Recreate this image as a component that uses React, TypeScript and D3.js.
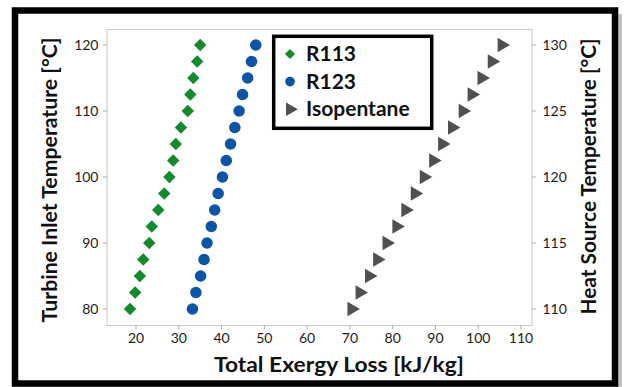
import React from "react";
import * as d3 from "d3";

const turbineInletTemps = [80, 82.5, 85, 87.5, 90, 92.5, 95, 97.5, 100, 102.5, 105, 107.5, 110, 112.5, 115, 117.5, 120];
const heatSourceTemps = [110, 111.25, 112.5, 113.75, 115, 116.25, 117.5, 118.75, 120, 121.25, 122.5, 123.75, 125, 126.25, 127.5, 128.75, 130];
const r113Loss = [18.6, 19.8, 20.9, 21.7, 23.1, 23.7, 25.2, 26.6, 27.8, 28.7, 29.3, 30.5, 32.1, 32.7, 33.4, 34.3, 35.0];
const r123Loss = [33.2, 34.0, 35.1, 35.9, 36.6, 37.6, 38.4, 39.2, 40.2, 41.1, 42.1, 43.1, 44.1, 44.9, 46.1, 47.0, 48.0];
const isopentaneLoss = [70.4, 72.3, 74.5, 76.4, 78.6, 80.9, 83.0, 85.2, 87.3, 89.5, 91.6, 93.9, 96.4, 98.5, 100.8, 103.2, 105.5];

const xTicks = [20, 30, 40, 50, 60, 70, 80, 90, 100, 110];
const yLeftTicks = [80, 90, 100, 110, 120];
const yRightTicks = [110, 115, 120, 125, 130];
const seriesNames = ["R113", "R123", "Isopentane"];

const W = 624;
const H = 387;
const plot = { left: 107, right: 532, top: 29.5, bottom: 325.5 };
const FONT = "Lato, 'Open Sans', sans-serif";

const COLORS = { r113: "#158a2c", r123: "#0c55a6", iso: "#505050" };

export default function App() {
  const x = d3.scaleLinear().domain([13.22, 112.57]).range([plot.left, plot.right]);
  const yL = d3.scaleLinear().domain([77.5, 122.35]).range([plot.bottom, plot.top]);
  const yR = d3.scaleLinear().domain([108.75, 131.17]).range([plot.bottom, plot.top]);

  const diamond = d3.symbol().type(d3.symbolSquare).size(78)();
  const circle = d3.symbol().type(d3.symbolCircle).size(104)();
  const triangle = d3.symbol().type(d3.symbolTriangle).size(90)();
  const diamondSm = d3.symbol().type(d3.symbolSquare).size(52)();
  const circleSm = d3.symbol().type(d3.symbolCircle).size(74)();
  const triangleSm = d3.symbol().type(d3.symbolTriangle).size(80)();

  const legendX = 273.7;
  const legendY = 36.3;
  const legendRows = [
    { name: seriesNames[0], path: diamondSm, color: COLORS.r113, rot: 45 },
    { name: seriesNames[1], path: circleSm, color: COLORS.r123, rot: 0 },
    { name: seriesNames[2], path: triangleSm, color: COLORS.iso, rot: 90 },
  ];

  return (
    <svg width={W} height={H} style={{ position: "absolute", left: 0, top: 0, background: "#fff" }}>
      {/* shadow + outer border */}
      <rect x={19} y={14} width={603} height={376} fill="#9a9a9a" opacity={0.6} />
      <rect x={15} y={10.5} width={600} height={373} fill="#fff" stroke="#000" strokeWidth={6.5} />

      {/* plot frame */}
      <rect x={plot.left} y={plot.top} width={plot.right - plot.left} height={plot.bottom - plot.top} fill="#fff" stroke="#c8c8c8" strokeWidth={1} />

      {/* x axis */}
      {xTicks.map((t) => (
        <g key={"x" + t}>
          <line x1={x(t)} x2={x(t)} y1={plot.bottom} y2={plot.bottom + 4} stroke="#aaa" />
          <text x={x(t)} y={343} textAnchor="middle" fontFamily={FONT} fontSize={14} fill="#1a1a1a">{t}</text>
        </g>
      ))}
      {/* left axis */}
      {yLeftTicks.map((t) => (
        <g key={"yl" + t}>
          <line x1={plot.left - 4} x2={plot.left} y1={yL(t)} y2={yL(t)} stroke="#aaa" />
          <text x={98.5} y={yL(t) + 5} textAnchor="end" fontFamily={FONT} fontSize={14} fill="#1a1a1a">{t}</text>
        </g>
      ))}
      {/* right axis */}
      {yRightTicks.map((t) => (
        <g key={"yr" + t}>
          <line x1={plot.right} x2={plot.right + 4} y1={yR(t)} y2={yR(t)} stroke="#aaa" />
          <text x={542.5} y={yR(t) + 5} textAnchor="start" fontFamily={FONT} fontSize={14} fill="#1a1a1a">{t}</text>
        </g>
      ))}

      {/* axis titles */}
      <text x={339} y={371.5} textAnchor="middle" fontFamily={FONT} fontWeight="bold" fontSize={21} fill="#111"
        textLength={250} lengthAdjust="spacingAndGlyphs">
        Total Exergy Loss [kJ/kg]
      </text>
      <text transform={`translate(57,180) rotate(-90)`} textAnchor="middle" fontFamily={FONT} fontWeight="bold" fontSize={21} fill="#111"
        textLength={285} lengthAdjust="spacingAndGlyphs">
        Turbine Inlet Temperature [°C]
      </text>
      <text transform={`translate(596,176.5) rotate(-90)`} textAnchor="middle" fontFamily={FONT} fontWeight="bold" fontSize={21} fill="#111"
        textLength={276} lengthAdjust="spacingAndGlyphs">
        Heat Source Temperature [°C]
      </text>

      {/* data */}
      {r113Loss.map((v, i) => (
        <path key={"a" + i} d={diamond!} fill={COLORS.r113} transform={`translate(${x(v)},${yL(turbineInletTemps[i])}) rotate(45)`} />
      ))}
      {r123Loss.map((v, i) => (
        <path key={"b" + i} d={circle!} fill={COLORS.r123} transform={`translate(${x(v)},${yL(turbineInletTemps[i])})`} />
      ))}
      {isopentaneLoss.map((v, i) => (
        <path key={"c" + i} d={triangle!} fill={COLORS.iso} transform={`translate(${x(v)},${yR(heatSourceTemps[i])}) rotate(90)`} />
      ))}

      {/* legend */}
      <rect x={legendX} y={legendY} width={158} height={92} fill="#fff" stroke="#000" strokeWidth={3.5} />
      {legendRows.map((r, i) => (
        <g key={r.name} transform={`translate(0,${54 + i * 27.6})`}>
          <path d={r.path!} fill={r.color} transform={`translate(290,0) rotate(${r.rot})`} />
          <text x={306} y={7} fontFamily={FONT} fontWeight="bold" fontSize={21} fill="#111">{r.name}</text>
        </g>
      ))}
    </svg>
  );
}
